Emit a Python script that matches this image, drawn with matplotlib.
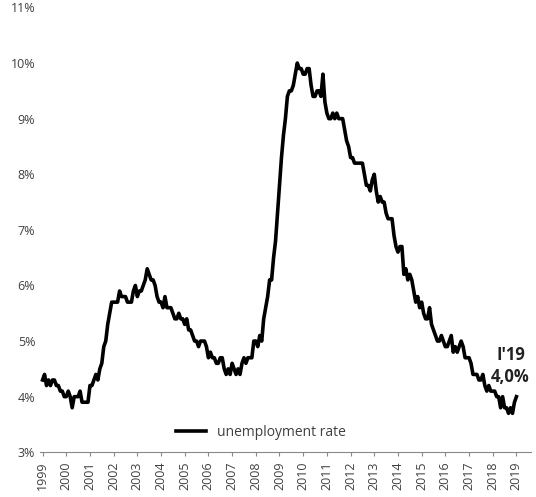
import numpy as np
import matplotlib
matplotlib.use("Agg")
import matplotlib.pyplot as plt
from matplotlib.ticker import FuncFormatter

plt.rcParams['font.family'] = ['Open Sans', 'DejaVu Sans']

# monthly unemployment rate, Jan 1999 .. Jan 2019
rates = [
    4.3, 4.4, 4.2, 4.3, 4.2, 4.3, 4.3, 4.2, 4.2, 4.1, 4.1, 4.0,
    4.0, 4.1, 4.0, 3.8, 4.0, 4.0, 4.0, 4.1, 3.9, 3.9, 3.9, 3.9,
    4.2, 4.2, 4.3, 4.4, 4.3, 4.5, 4.6, 4.9, 5.0, 5.3, 5.5, 5.7,
    5.7, 5.7, 5.7, 5.9, 5.8, 5.8, 5.8, 5.7, 5.7, 5.7, 5.9, 6.0,
    5.8, 5.9, 5.9, 6.0, 6.1, 6.3, 6.2, 6.1, 6.1, 6.0, 5.8, 5.7,
    5.7, 5.6, 5.8, 5.6, 5.6, 5.6, 5.5, 5.4, 5.4, 5.5, 5.4, 5.4,
    5.3, 5.4, 5.2, 5.2, 5.1, 5.0, 5.0, 4.9, 5.0, 5.0, 5.0, 4.9,
    4.7, 4.8, 4.7, 4.7, 4.6, 4.6, 4.7, 4.7, 4.5, 4.4, 4.5, 4.4,
    4.6, 4.5, 4.4, 4.5, 4.4, 4.6, 4.7, 4.6, 4.7, 4.7, 4.7, 5.0,
    5.0, 4.9, 5.1, 5.0, 5.4, 5.6, 5.8, 6.1, 6.1, 6.5, 6.8, 7.3,
    7.8, 8.3, 8.7, 9.0, 9.4, 9.5, 9.5, 9.6, 9.8, 10.0, 9.9, 9.9,
    9.8, 9.8, 9.9, 9.9, 9.6, 9.4, 9.4, 9.5, 9.5, 9.4, 9.8, 9.3,
    9.1, 9.0, 9.0, 9.1, 9.0, 9.1, 9.0, 9.0, 9.0, 8.8, 8.6, 8.5,
    8.3, 8.3, 8.2, 8.2, 8.2, 8.2, 8.2, 8.0, 7.8, 7.8, 7.7, 7.9,
    8.0, 7.7, 7.5, 7.6, 7.5, 7.5, 7.3, 7.2, 7.2, 7.2, 6.9, 6.7,
    6.6, 6.7, 6.7, 6.2, 6.3, 6.1, 6.2, 6.1, 5.9, 5.7, 5.8, 5.6,
    5.7, 5.5, 5.4, 5.4, 5.6, 5.3, 5.2, 5.1, 5.0, 5.0, 5.1, 5.0,
    4.9, 4.9, 5.0, 5.1, 4.8, 4.9, 4.8, 4.9, 5.0, 4.9, 4.7, 4.7,
    4.7, 4.6, 4.4, 4.4, 4.4, 4.3, 4.3, 4.4, 4.2, 4.1, 4.2, 4.1,
    4.1, 4.1, 4.0, 4.0, 3.8, 4.0, 3.8, 3.8, 3.7, 3.8, 3.7, 3.9,
    4.0,
]
years = list(range(1999, 2020))
x = 1999 + np.arange(len(rates)) / 12

fig = plt.figure(figsize=(5.36, 4.97), dpi=100)
ax = fig.add_axes([0.075, 0.09, 0.915, 0.895])
ax.plot(x, rates, color="black", lw=2.6, label="unemployment rate")

ax.set_xlim(1998.9, 2019.6)
ax.set_ylim(3, 11)
ax.set_xticks(years)
ax.set_xticklabels([str(y) for y in years], rotation=90, fontsize=9, color="#404040")
ax.set_yticks(range(3, 12))
ax.yaxis.set_major_formatter(FuncFormatter(lambda v, p: f"{int(v)}%"))
ax.tick_params(axis="y", length=0, labelsize=9, labelcolor="#404040")
ax.tick_params(axis="x", length=3, color="#888888")
for s in ["top", "right", "left"]:
    ax.spines[s].set_visible(False)
ax.spines["bottom"].set_color("#888888")

ax.text(2018.75, 4.55, "I'19\n4,0%", ha="center", va="center",
        fontsize=12, fontweight="bold", color="#222222", linespacing=1.3)
ax.legend(loc="lower center", bbox_to_anchor=(0.45, 0.0), frameon=False,
          fontsize=10, handlelength=2.2, labelcolor="#404040")

fig.savefig("out.png", dpi=100)
